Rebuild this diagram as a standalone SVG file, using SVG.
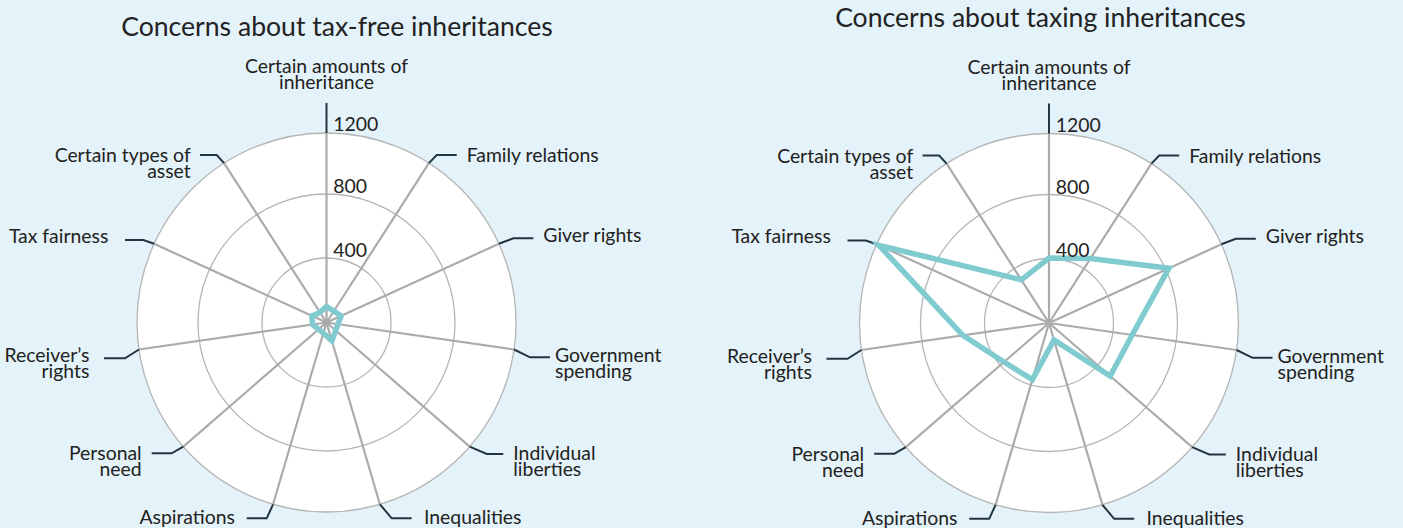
<svg xmlns="http://www.w3.org/2000/svg" width="1403" height="528" viewBox="0 0 1403 528">
<style>
text{font-family:Lato,"Liberation Sans",sans-serif;fill:#222}
.t{font-size:26.6px}
.l{font-size:19.4px}
.ring{fill:none;stroke:#b5b5b5;stroke-width:1.3}
.outer{fill:#fff;stroke:#b5b5b5;stroke-width:1.3}
.spoke{stroke:#ababab;stroke-width:2.2;fill:none}
.lead{stroke:#22363f;stroke-width:2;fill:none}
.data{fill:none;stroke:#80cbd0;stroke-width:5.5;stroke-linejoin:miter}
.e{text-anchor:end}
.m{text-anchor:middle}
</style>
<defs>
<g id="grid">
<circle class="outer" r="189.5"/>
<circle class="ring" r="128.5"/>
<circle class="ring" r="64.5"/>
<path class="spoke" d="M0 0L0 -189.5M0 0L102.4 -159.4M0 0L172.4 -78.7M0 0L187.6 27M0 0L143.2 124.1M0 0L53.4 181.8M0 0L-53.4 181.8M0 0L-143.2 124.1M0 0L-187.6 27M0 0L-172.4 -78.7M0 0L-102.4 -159.4"/>
</g>
<g id="leaders">
<path class="lead" d="M0 -189.5V-219.5M102.4 -159.4L110.2 -167.5H130.2M172.4 -78.7L186.8 -84.2H206.8M187.6 27L203.5 34.8H223.5M143.2 124.1L160.2 131.5H176.8M53.4 181.8L65.2 195.8H85.2M-53.4 181.8L-59.8 195.8H-79.8M-143.2 124.1L-154.8 130.8H-174.8M-187.6 27L-201.5 35.8H-222.5M-172.4 -78.7L-183.2 -82.5H-201.5M-102.4 -159.4L-109.8 -167.5H-126.5"/>
</g>
<g id="labels">
<g id="lab-amounts"><text class="l m" x="0" y="-249.2">Certain amounts of</text><text class="l m" x="0" y="-233.2">inheritance</text></g>
<g id="lab-family"><text class="l" x="140.2" y="-160.2">Family relations</text></g>
<g id="lab-giver"><text class="l" x="216.8" y="-80.2">Giver rights</text></g>
<g id="lab-gov"><text class="l" x="228.5" y="39.8">Government</text><text class="l" x="228.5" y="55.8">spending</text></g>
<g id="lab-indiv"><text class="l" x="186.8" y="137.5">Individual</text><text class="l" x="186.8" y="153.5">liberties</text></g>
<g id="lab-ineq"><text class="l" x="97.5" y="201.5">Inequalities</text></g>
<g id="lab-asp"><text class="l e" x="-91.5" y="201.5">Aspirations</text></g>
<g id="lab-need"><text class="l e" x="-184.8" y="137.5">Personal</text><text class="l e" x="-184.8" y="153.5">need</text></g>
<g id="lab-recv"><text class="l e" x="-237.2" y="39.8">Receiver’s</text><text class="l e" x="-237.2" y="55.8">rights</text></g>
<g id="lab-tax"><text class="l e" x="-218.2" y="-79.8">Tax fairness</text></g>
<g id="lab-asset"><text class="l e" x="-135.8" y="-160.2">Certain types of</text><text class="l e" x="-135.8" y="-144.2">asset</text></g>
<g id="lab-scale"><text class="l" x="6.8" y="-191.5">1200</text><text class="l" x="6.8" y="-129.2">800</text><text class="l" x="6.8" y="-65.8">400</text></g>
</g>
</defs>
<rect width="1403" height="528" fill="#e4f2f9"/>
<g id="title-left"><text class="t m" x="337" y="35.7">Concerns about tax-free inheritances</text></g>
<g id="title-right"><text class="t m" x="1040.5" y="27.3">Concerns about taxing inheritances</text></g>
<g id="chart-left" transform="translate(326.5 322.5)">
<use href="#grid"/>
<g id="connectors-left"><use href="#leaders"/></g>
<polygon id="data-left" class="data" points="0,-16 7.3,-11.4 14.6,-6.6 11.5,1.7 9.2,8 5.4,18.2 -3.1,10.6 -7.9,6.9 -13.9,2 -14.6,-6.6 -6.5,-10.1"/>
<use href="#labels"/>
</g>
<g id="chart-right" transform="translate(1049 323)">
<use href="#grid"/>
<g id="connectors-right"><use href="#leaders"/></g>
<polygon id="data-right" class="data" points="0,-65 41.5,-64.5 119.9,-54.8 83.1,12 61.2,53 5,16.9 -16.6,56.6 -45,39 -86.1,12.4 -170.1,-77.7 -27.7,-43.2"/>
<use href="#labels"/>
</g>
</svg>
